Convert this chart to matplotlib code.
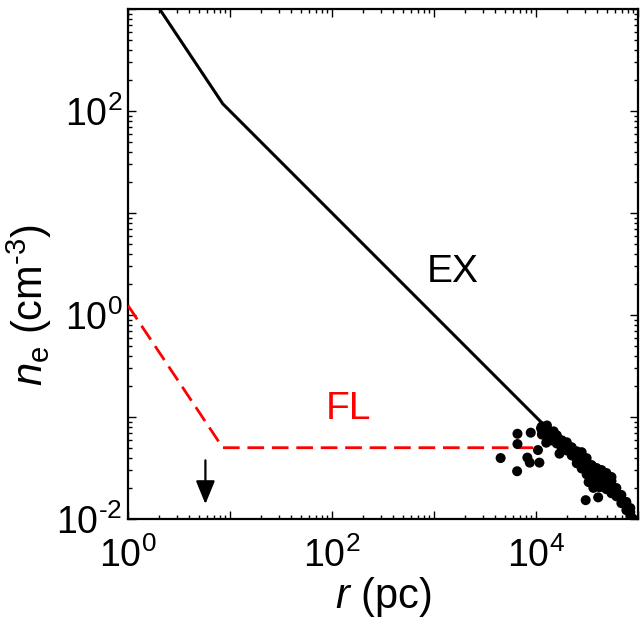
import math
import matplotlib
matplotlib.use('Agg')
import matplotlib.pyplot as plt
from matplotlib.ticker import LogLocator, FuncFormatter, NullFormatter

plt.rcParams['font.family'] = ['Liberation Sans', 'DejaVu Sans']
plt.rcParams['mathtext.fontset'] = 'custom'
plt.rcParams['mathtext.rm'] = 'Liberation Sans'
plt.rcParams['mathtext.it'] = 'Liberation Sans:italic'
plt.rcParams['mathtext.bf'] = 'Liberation Sans:bold'
plt.rcParams['axes.unicode_minus'] = False

# EX model (solid black broken power law)
ex_r = [1.0, 8.5, 1.0e5]
ex_n = [2914.0, 117.6, 0.01]

# FL model (red dashed)
fl_r = [1.0, 8.5, 1.0e4]
fl_n = [1.24, 0.050, 0.050]

# observed points (r in pc, n_e in cm^-3)
obs_r = [4.50e3, 6.58e3, 6.58e3, 6.53e3, 8.88e3, 8.23e3, 8.69e3, 1.08e4, 1.045e4,
         1.12e4, 1.28e4, 1.26e4, 1.49e4, 1.66e4, 1.70e4, 3.07e4, 4.07e4, 3.65e4,
         2.51e4, 3.28e4, 4.20e4,
         1.143e4, 1.143e4, 1.143e4, 1.279e4, 1.279e4, 1.279e4,
         1.432e4, 1.432e4, 1.432e4, 1.601e4, 1.601e4, 1.601e4,
         1.791e4, 1.791e4, 1.791e4, 2.004e4, 2.004e4, 2.004e4,
         2.240e4, 2.240e4, 2.240e4, 2.506e4, 2.506e4, 2.506e4,
         2.804e4, 2.804e4, 2.804e4, 3.136e4, 3.136e4, 3.136e4,
         3.508e4, 3.508e4, 3.508e4, 3.924e4, 3.924e4, 3.924e4,
         4.387e4, 4.387e4, 4.387e4, 4.910e4, 4.910e4, 4.910e4,
         5.495e4, 5.495e4, 5.495e4, 6.138e4, 6.138e4, 6.138e4,
         6.871e4, 6.871e4, 6.871e4, 7.691e4, 7.691e4, 7.691e4,
         8.41e4, 8.41e4, 8.41e4,
         2.804e4, 2.804e4, 3.136e4, 3.136e4, 3.508e4, 3.508e4,
         3.924e4, 3.924e4, 4.387e4, 4.387e4, 4.910e4, 4.910e4,
         5.495e4, 5.495e4]
obs_n = [0.0396, 0.0685, 0.0543, 0.0294, 0.0702, 0.0400, 0.0357, 0.0357, 0.0474,
         0.0778, 0.0826, 0.0560, 0.0723, 0.0590, 0.0437, 0.0153, 0.0163, 0.0202,
         0.0352, 0.0230, 0.0205,
         0.0809, 0.0738, 0.0673, 0.0757, 0.0690, 0.0629,
         0.0708, 0.0646, 0.0589, 0.0661, 0.0603, 0.0550,
         0.0591, 0.0539, 0.0492, 0.0565, 0.0515, 0.0470,
         0.0505, 0.0461, 0.0420, 0.0461, 0.0421, 0.0384,
         0.0413, 0.0376, 0.0343, 0.0361, 0.0329, 0.0300,
         0.0308, 0.0281, 0.0256, 0.0288, 0.0263, 0.0240,
         0.0275, 0.0251, 0.0229, 0.0258, 0.0235, 0.0214,
         0.0236, 0.0215, 0.0196, 0.0201, 0.0183, 0.0167,
         0.0172, 0.0157, 0.0143, 0.0147, 0.0134, 0.0122,
         0.0128, 0.0117, 0.0107,
         0.0452, 0.0313, 0.0395, 0.0274, 0.0338, 0.0234,
         0.0316, 0.0219, 0.0302, 0.0209, 0.0282, 0.0196,
         0.0258, 0.0179]

# arrow marker
arrow_r = 5.74
arrow_n_from = 0.0376
arrow_n_to = 0.0140

xlim = (1.0, 1.0e5)
ylim = (1.0e-2, 1.0e3)
x_labeled = [0, 2, 4]
y_labeled = [-2, 0, 2]

fig = plt.figure(figsize=(6.4, 6.25), dpi=100)
ax = fig.add_axes([128/640, 1 - 519/625, (638-128)/640, (519-9)/625])

ax.plot(ex_r, ex_n, color='black', lw=2.2, solid_joinstyle='miter', zorder=3)
ax.plot(fl_r, fl_n, color='#ff0000', lw=2.0, dashes=(6.0, 2.8), zorder=3)
ax.scatter(obs_r, obs_n, s=52, color='black', edgecolors='none', zorder=4, clip_on=True)

ax.annotate('', xy=(arrow_r, arrow_n_to), xytext=(arrow_r, arrow_n_from),
            arrowprops=dict(arrowstyle='-|>,head_length=1.1,head_width=0.45',
                            mutation_scale=13, lw=1.6, color='black', shrinkA=0, shrinkB=0))

ax.text(1.52e3, 2.63, 'EX', fontsize=28, color='black', ha='center', va='center')
ax.text(145, 0.121, 'FL', fontsize=28, color='#ff0000', ha='center', va='center')

ax.set_xscale('log')
ax.set_yscale('log')
ax.set_xlim(*xlim)
ax.set_ylim(*ylim)

ax.xaxis.set_major_locator(LogLocator(base=10, numticks=20))
ax.yaxis.set_major_locator(LogLocator(base=10, numticks=20))
ax.xaxis.set_minor_locator(LogLocator(base=10, subs=range(2, 10), numticks=50))
ax.yaxis.set_minor_locator(LogLocator(base=10, subs=range(2, 10), numticks=50))
ax.xaxis.set_minor_formatter(NullFormatter())
ax.yaxis.set_minor_formatter(NullFormatter())


def fmt_factory(labeled):
    def f(v, pos):
        e = int(round(math.log10(v)))
        if e in labeled:
            if e < 0:
                return r'$\mathregular{10^{\text{-}%d}}$' % (-e)
            return r'$\mathregular{10^{%d}}$' % e
        return ''
    return f


ax.xaxis.set_major_formatter(FuncFormatter(fmt_factory(x_labeled)))
ax.yaxis.set_major_formatter(FuncFormatter(fmt_factory(y_labeled)))

ax.tick_params(which='both', direction='in', top=True, right=True, width=1.0)
ax.tick_params(which='major', length=6, labelsize=27)
ax.tick_params(axis='x', which='major', pad=13)
ax.tick_params(axis='y', which='major', pad=4)
ax.tick_params(which='minor', length=3)
for s in ax.spines.values():
    s.set_linewidth(1.6)

ax.set_xlabel(r'$\mathit{r}$ (pc)', fontsize=30, labelpad=0)
ax.set_ylabel(r'$\mathit{n}_\mathregular{e}$ (cm$^{\text{-}3}$)', fontsize=30)
ax.yaxis.set_label_coords(-0.145, 0.42)

fig.savefig('out.png', dpi=100)
